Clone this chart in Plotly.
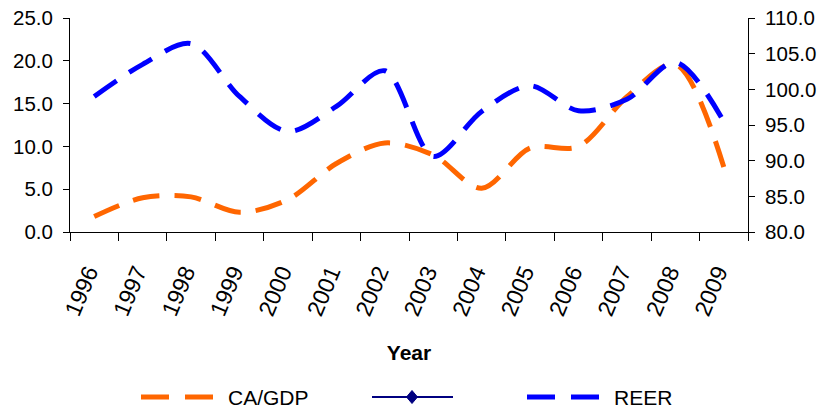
import plotly.graph_objects as go

# Annual series, 1996-2009
years = [str(y) for y in range(1996, 2010)]
ca_gdp = [1.8, 4.0, 4.1, 2.3, 3.8, 8.0, 10.4, 9.0, 5.1, 9.8, 10.0, 15.8, 19.6, 7.6]
reer = [99.0, 103.5, 106.4, 99.0, 94.1, 97.6, 102.6, 90.6, 96.9, 100.5, 97.0, 98.6, 103.8, 95.5]

left_ticks = [0, 5, 10, 15, 20, 25]
right_ticks = [80, 85, 90, 95, 100, 105, 110]

ORANGE = "#FF6600"
BLUE = "#0000FF"
NAVY = "#000080"
FONT = "Liberation Sans, Arial, sans-serif"

W, H = 825, 410
L, R, T, B = 70, 77, 18, 178
PW, PH = W - L - R, H - T - B


def px_x(x):
    return (x - L) / PW


def px_y(y):
    return (H - B - y) / PH


fig = go.Figure()
fig.add_trace(go.Scatter(
    x=years, y=ca_gdp, name="CA/GDP", mode="lines",
    line=dict(color=ORANGE, width=5, dash="27px,15px", shape="spline", smoothing=0.9),
    yaxis="y", showlegend=False,
))
fig.add_trace(go.Scatter(
    x=years, y=reer, name="REER", mode="lines",
    line=dict(color=BLUE, width=5, dash="27px,15px", shape="spline", smoothing=0.9),
    yaxis="y2", showlegend=False,
))

# legend drawn below the axis title
shapes = []
annotations = []
ly = px_y(397)
shapes.append(dict(type="line", xref="paper", yref="paper", x0=px_x(141), x1=px_x(213), y0=ly, y1=ly,
                   line=dict(color=ORANGE, width=5, dash="28px,16px")))
annotations.append(dict(text="CA/GDP", xref="paper", yref="paper", x=px_x(226), y=ly,
                        xanchor="left", yanchor="middle", showarrow=False,
                        font=dict(family=FONT, size=21, color="black")))
shapes.append(dict(type="line", xref="paper", yref="paper", x0=px_x(372), x1=px_x(453), y0=ly, y1=ly,
                   line=dict(color=NAVY, width=2)))
cx, cy = px_x(412), ly
dx, dy = 5.5 / PW, 6.5 / PH
shapes.append(dict(type="path", xref="paper", yref="paper",
                   path=f"M {cx - dx} {cy} L {cx} {cy + dy} L {cx + dx} {cy} L {cx} {cy - dy} Z",
                   fillcolor=NAVY, line=dict(color=NAVY, width=1)))
shapes.append(dict(type="line", xref="paper", yref="paper", x0=px_x(527), x1=px_x(599), y0=ly, y1=ly,
                   line=dict(color=BLUE, width=5, dash="28px,16px")))
annotations.append(dict(text="REER", xref="paper", yref="paper", x=px_x(612), y=ly,
                        xanchor="left", yanchor="middle", showarrow=False,
                        font=dict(family=FONT, size=21, color="black")))

fig.update_layout(
    width=W, height=H,
    margin=dict(l=L, r=R, t=T, b=B, autoexpand=False),
    paper_bgcolor="white", plot_bgcolor="white",
    font=dict(family=FONT, size=20.5, color="black"),
    showlegend=False,
    shapes=shapes,
    annotations=annotations,
    xaxis=dict(
        type="category", range=[-0.5, 13.5],
        tickson="boundaries", ticks="outside", ticklen=8, tickcolor="black",
        showline=True, linecolor="black", linewidth=1,
        showgrid=False, zeroline=False,
        tickangle=-67, tickfont=dict(size=23),
        ticklabelstandoff=17, ticklabelshift=-6,
        title=dict(text="<b>Year</b>", font=dict(size=21), standoff=26),
        automargin=False,
    ),
    yaxis=dict(
        range=[0, 25], tickvals=left_ticks, tickformat=".1f",
        ticks="outside", ticklen=6, tickcolor="black",
        showline=True, linecolor="black", linewidth=1,
        showgrid=False, zeroline=False, ticklabelstandoff=6,
        automargin=False,
    ),
    yaxis2=dict(
        range=[80, 110], tickvals=right_ticks, tickformat=".1f",
        overlaying="y", side="right",
        ticks="outside", ticklen=6, tickcolor="black",
        showline=True, linecolor="black", linewidth=1,
        showgrid=False, zeroline=False, ticklabelstandoff=6,
        automargin=False,
    ),
)

fig.write_html("out.html")
